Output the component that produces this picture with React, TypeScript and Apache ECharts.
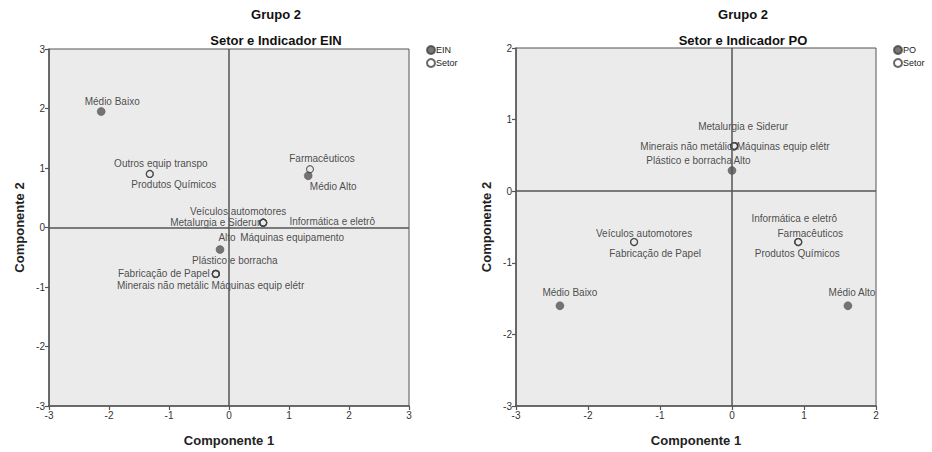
import React, { useEffect, useRef } from 'react';
import * as echarts from 'echarts';

const FONT = '"Liberation Sans", Arial, Helvetica, sans-serif';

// ---- Left panel: Setor e Indicador EIN ----
const einNames = ['Médio Baixo', 'Médio Alto', 'Alto'];
const einX = [-2.13, 1.32, -0.15];
const einY = [1.95, 0.87, -0.37];

const setorEinNames = [
  'Outros equip transpo', 'Produtos Químicos', 'Farmacêuticos',
  'Veículos automotores', 'Metalurgia e Siderur', 'Informática e eletrô', 'Máquinas equipamento',
  'Fabricação de Papel', 'Minerais não metálic', 'Máquinas equip elétr', 'Plástico e borracha',
];
const setorEinX = [-1.32, -1.32, 1.35, 0.57, 0.57, 0.57, 0.57, -0.22, -0.22, -0.22, -0.22];
const setorEinY = [0.9, 0.9, 0.98, 0.08, 0.08, 0.08, 0.08, -0.78, -0.78, -0.78, -0.78];

// ---- Right panel: Setor e Indicador PO ----
const poNames = ['Alto', 'Médio Baixo', 'Médio Alto'];
const poX = [0, -2.39, 1.61];
const poY = [0.29, -1.6, -1.6];

const setorPoNames = [
  'Metalurgia e Siderur', 'Minerais não metálic', 'Máquinas equip elétr', 'Plástico e borracha',
  'Veículos automotores', 'Fabricação de Papel',
  'Informática e eletrô', 'Farmacêuticos', 'Produtos Químicos',
];
const setorPoX = [0.03, 0.03, 0.03, 0.03, -1.36, -1.36, 0.92, 0.92, 0.92];
const setorPoY = [0.63, 0.63, 0.63, 0.63, -0.71, -0.71, -0.71, -0.71, -0.71];

const titles = ['Grupo 2', 'Setor e Indicador EIN', 'Setor e Indicador PO'];
const axisNames = ['Componente 1', 'Componente 2'];

// label placement (pixel shifts of each label centre from its point)
const shiftEin: Record<string, [number, number]> = {
  'Médio Baixo': [11, -10], 'Médio Alto': [25, 11], 'Alto': [7, -12],
};
const shiftSetorEin: Record<string, [number, number]> = {
  'Outros equip transpo': [11, -10], 'Produtos Químicos': [24, 11], 'Farmacêuticos': [12, -11],
  'Veículos automotores': [-25, -11], 'Metalurgia e Siderur': [-48, 0],
  'Informática e eletrô': [69, -1], 'Máquinas equipamento': [29, 15],
  'Fabricação de Papel': [-52, 0], 'Minerais não metálic': [-53, 12],
  'Máquinas equip elétr': [42, 12], 'Plástico e borracha': [19, -13],
};
const shiftPo: Record<string, [number, number]> = {
  'Alto': [10, -10], 'Médio Baixo': [10, -13], 'Médio Alto': [4, -13],
};
const shiftSetorPo: Record<string, [number, number]> = {
  'Metalurgia e Siderur': [9, -20], 'Minerais não metálic': [-48, 0],
  'Máquinas equip elétr': [49, 0], 'Plástico e borracha': [-45, 14],
  'Veículos automotores': [10, -9], 'Fabricação de Papel': [21, 11],
  'Informática e eletrô': [-4, -24], 'Farmacêuticos': [12, -9], 'Produtos Químicos': [-1, 11],
};

const TXT = '#222';
const LINE = '#555';

function points(names: string[], xs: number[], ys: number[], shifts: Record<string, [number, number]>) {
  return names.map((n, i) => ({
    name: n,
    value: [xs[i], ys[i]],
    label: { offset: shifts[n] || [0, 0] },
  }));
}

const pointLabel = {
  show: true,
  position: 'inside',
  formatter: '{b}',
  color: TXT,
  fontSize: 10,
  fontFamily: FONT,
};

const zeroLines = {
  silent: true,
  symbol: ['none', 'none'],
  label: { show: false },
  lineStyle: { color: LINE, width: 1.5, type: 'solid' },
  emphasis: { disabled: true },
  data: [{ xAxis: 0 }, { yAxis: 0 }],
};

function xAxisCfg(gridIndex: number, min: number, max: number) {
  return {
    gridIndex,
    type: 'value',
    min,
    max,
    interval: 1,
    name: axisNames[0],
    nameLocation: 'middle',
    nameGap: 28,
    nameTextStyle: { color: TXT, fontSize: 13, fontWeight: 'bold', fontFamily: FONT },
    axisLine: { show: true, onZero: false, lineStyle: { color: LINE, width: 1.5 } },
    axisTick: { show: true, length: 4, lineStyle: { color: LINE, width: 1.2 } },
    axisLabel: { color: '#333', fontSize: 10, fontFamily: FONT, margin: 4 },
    splitLine: { show: false },
  };
}

function yAxisCfg(gridIndex: number, min: number, max: number) {
  return {
    gridIndex,
    type: 'value',
    min,
    max,
    interval: 1,
    name: axisNames[1],
    nameLocation: 'middle',
    nameGap: 23,
    nameTextStyle: { color: TXT, fontSize: 13, fontWeight: 'bold', fontFamily: FONT },
    axisLine: { show: true, onZero: false, lineStyle: { color: LINE, width: 1.5 } },
    axisTick: { show: true, length: 4, lineStyle: { color: LINE, width: 1.2 } },
    axisLabel: { color: '#333', fontSize: 10, fontFamily: FONT, margin: 4 },
    splitLine: { show: false },
  };
}

function titleText(text: string, x: number, y: number) {
  return {
    type: 'text',
    x,
    y,
    style: {
      text,
      textAlign: 'center',
      textVerticalAlign: 'middle',
      fill: '#111',
      fontSize: 13,
      fontWeight: 'bold',
      fontFamily: FONT,
    },
  };
}

export default function App() {
  const ref = useRef<HTMLDivElement>(null);
  useEffect(() => {
    if (!ref.current) return;
    const chart = echarts.init(ref.current, null, { renderer: 'svg' });
    const filled = { color: '#555', borderColor: '#444', borderWidth: 0.5 };
    const hollow = { color: 'rgba(0,0,0,0)', borderColor: '#444', borderWidth: 1.2 };
    const legendBase = {
      orient: 'vertical',
      itemWidth: 8,
      itemHeight: 8,
      itemGap: 3,
      selectedMode: false,
      textStyle: { color: TXT, fontSize: 9, fontFamily: FONT, padding: [0, 0, 0, -4] },
      padding: 0,
    };
    chart.setOption({
      animation: false,
      backgroundColor: '#fff',
      textStyle: { fontFamily: FONT },
      graphic: [
        titleText(titles[0], 276, 14),
        titleText(titles[1], 276, 40),
        titleText(titles[0], 743, 14),
        titleText(titles[2], 743, 40),
      ],
      legend: [
        { ...legendBase, left: 426, top: 45, data: ['EIN', 'Setor'] },
        { ...legendBase, left: 893, top: 45, data: ['PO', 'Setor'] },
      ],
      grid: [
        { left: 49, top: 49, width: 360, height: 360, show: true, backgroundColor: '#ebebeb', borderColor: LINE, borderWidth: 1 },
        { left: 516, top: 48, width: 360, height: 360, show: true, backgroundColor: '#ebebeb', borderColor: LINE, borderWidth: 1 },
      ],
      xAxis: [xAxisCfg(0, -3, 3), xAxisCfg(1, -3, 2)],
      yAxis: [yAxisCfg(0, -3, 3), yAxisCfg(1, -3, 2)],
      series: [
        {
          name: 'EIN',
          type: 'scatter',
          xAxisIndex: 0,
          yAxisIndex: 0,
          symbol: 'circle',
          symbolSize: 8,
          itemStyle: filled,
          label: pointLabel,
          data: points(einNames, einX, einY, shiftEin),
          markLine: zeroLines,
          z: 3,
        },
        {
          name: 'Setor',
          type: 'scatter',
          xAxisIndex: 0,
          yAxisIndex: 0,
          symbol: 'circle',
          symbolSize: 7,
          itemStyle: hollow,
          label: pointLabel,
          data: points(setorEinNames, setorEinX, setorEinY, shiftSetorEin),
          z: 4,
        },
        {
          name: 'PO',
          type: 'scatter',
          xAxisIndex: 1,
          yAxisIndex: 1,
          symbol: 'circle',
          symbolSize: 8,
          itemStyle: filled,
          label: pointLabel,
          data: points(poNames, poX, poY, shiftPo),
          markLine: zeroLines,
          z: 3,
        },
        {
          name: 'Setor',
          type: 'scatter',
          xAxisIndex: 1,
          yAxisIndex: 1,
          symbol: 'circle',
          symbolSize: 7,
          itemStyle: hollow,
          label: pointLabel,
          data: points(setorPoNames, setorPoX, setorPoY, shiftSetorPo),
          z: 4,
        },
      ],
    });
    return () => chart.dispose();
  }, []);
  return (
    <div
      ref={ref}
      style={{ position: 'absolute', left: 0, top: 0, width: 932, height: 452, background: '#fff' }}
    />
  );
}
